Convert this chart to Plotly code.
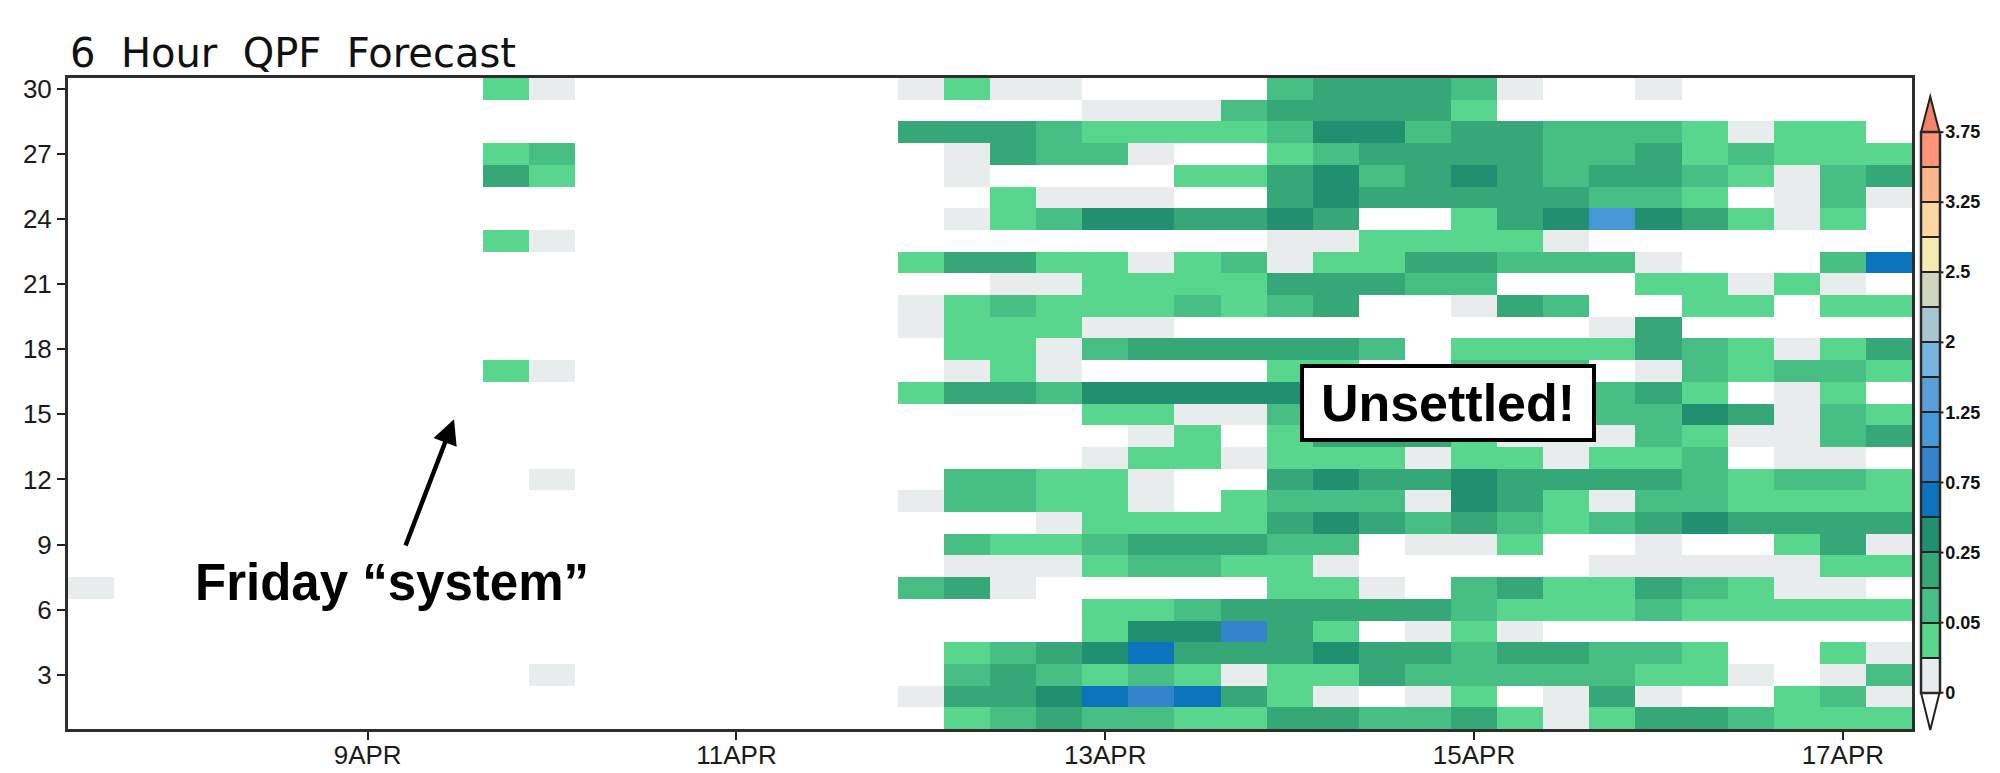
import numpy as np
import plotly.graph_objects as go

W, H = 2000, 773
L, R, T, B = 68.0, 1912.0, 77.5, 729.0

TITLE = "6\u00a0\u00a0Hour\u00a0\u00a0QPF\u00a0\u00a0Forecast"
X_TICK_POS = [6, 14, 22, 30, 38]
X_TICK_TEXT = ["9APR", "11APR", "13APR", "15APR", "17APR"]
Y_TICK_POS = [3, 6, 9, 12, 15, 18, 21, 24, 27, 30]
LEVEL_LABELS = ["0", "", "0.05", "", "0.25", "", "0.75", "", "1.25", "", "2", "", "2.5", "", "3.25", "", "3.75"]
LEVEL_COLORS = ["#e8ecec", "#58d68d", "#46be84", "#36a878", "#209070", "#0c74bc", "#3384cb", "#4898d8",
                "#5a9fd8", "#74b4de", "#a9c6d0", "#d0d6bd", "#f4ebb2", "#fdd7a0", "#fdb58a", "#ff9478"]
TOP_COLOR = "#f4826b"

# Colour class per 6-hour cell (0 = no rain). First string = forecast 30, last = forecast 1.
LEFT_FORECASTS = {
    30: {9: 2, 10: 1}, 27: {9: 2, 10: 3}, 26: {9: 4, 10: 2}, 23: {9: 2, 10: 1},
    17: {9: 2, 10: 1}, 12: {10: 1}, 7: {0: 1}, 3: {10: 1},
}
RIGHT_ROWS = [  # columns 18..39
    "1211000034443100100000",
    "0000111344442000000000",
    "4443222235534433321220",
    "0143310023444433423222",
    "0100002245345434432134",
    "0021110045444443320131",
    "0123554454002458542120",
    "0000000011222210000000",
    "2442212312244333100036",
    "0011222244433000221210",
    "1232223234001430022022",
    "1222110000000001400000",
    "0221344444302222432124",
    "0121000022003330132332",
    "2443555555443333420120",
    "0000221133333333354132",
    "0000012024442111321134",
    "0000122122212212230110",
    "0332210045445444432332",
    "1332210233315421332222",
    "0001222245434323454444",
    "0322344433011200100241",
    "0111233221000001111122",
    "3410000022103422432110",
    "0000223444443222322222",
    "0000255742012100000000",
    "0234564445443443320021",
    "0343232122433333221013",
    "1445676421012014100231",
    "0234332244334212443222",
]

n_rows, n_cols = 30, 40
codes = np.zeros((n_rows, n_cols))
for i, row in enumerate(RIGHT_ROWS):
    forecast = 30 - i
    for j, ch in enumerate(row[:22]):
        codes[forecast - 1, 18 + j] = int(ch)
    for col, val in LEFT_FORECASTS.get(forecast, {}).items():
        codes[forecast - 1, col] = val

z = np.where(codes > 0, codes - 0.5, np.nan)

n = len(LEVEL_COLORS)
scale = []
for i, c in enumerate(LEVEL_COLORS):
    scale += [[i / n, c], [(i + 1) / n, c]]

px = lambda x: (x - L) / (R - L)
py = lambda y: (B - y) / (B - T)

CB_L, CB_R, CB_0, CB_TOP = 1921.0, 1939.5, 692.7, 131.7

fig = go.Figure(go.Heatmap(
    z=z.tolist(), x=list(range(n_cols)), y=list(range(1, n_rows + 1)),
    zmin=0, zmax=n, colorscale=scale, hoverinfo="skip", hoverongaps=False,
    colorbar=dict(
        thickness=CB_R - CB_L, thicknessmode="pixels",
        len=CB_0 - CB_TOP, lenmode="pixels",
        x=px(CB_L), xanchor="left", xpad=0,
        y=py(CB_0), yanchor="bottom", ypad=0,
        outlinewidth=2.5, outlinecolor="#2a2a2a",
        tickmode="array", tickvals=list(range(n + 1)), ticktext=LEVEL_LABELS,
        ticks="inside", ticklen=CB_R - CB_L, tickwidth=2.2, tickcolor="#222222",
        tickfont=dict(family="Liberation Sans", size=18, color="#111111", weight="bold"),
    ),
))

shapes = [
    dict(type="path", xref="paper", yref="paper", fillcolor=TOP_COLOR,
         line=dict(color="#222222", width=2),
         path=f"M {px(CB_L)} {py(CB_TOP)} L {px((CB_L+CB_R)/2)} {py(96)} L {px(CB_R)} {py(CB_TOP)} Z"),
    dict(type="path", xref="paper", yref="paper", fillcolor="white",
         line=dict(color="#222222", width=2),
         path=f"M {px(CB_L)} {py(CB_0)} L {px((CB_L+CB_R)/2)} {py(730)} L {px(CB_R)} {py(CB_0)} Z"),
]
for k, label in enumerate(LEVEL_LABELS):
    if label:
        yk = CB_0 - k * (CB_0 - CB_TOP) / n
        shapes.append(dict(type="line", xref="paper", yref="paper",
                           x0=px(CB_R), x1=px(CB_R + 4), y0=py(yk), y1=py(yk),
                           line=dict(color="#222222", width=2)))

annotations = [
    dict(text=TITLE, xref="paper", yref="paper", x=px(68), y=py(78), xanchor="left", yanchor="bottom",
         showarrow=False, font=dict(family="DejaVu Sans", size=40, color="#111111")),
    dict(text="Friday \u201csystem\u201d", xref="paper", yref="paper", x=px(391.5), y=py(582),
         xanchor="center", yanchor="middle", showarrow=False,
         font=dict(family="Liberation Sans", size=51, color="black", weight="bold")),
    dict(text="", xref="paper", yref="paper", x=px(454), y=py(419), ax=405 - 454, ay=546.7 - 419,
         axref="pixel", ayref="pixel", showarrow=True, arrowhead=2, arrowsize=1.1, arrowwidth=4.5, arrowcolor="black"),
    dict(text="<b>Unsettled!</b>", xref="paper", yref="paper", x=px(1447.5), y=py(402.5),
         xanchor="center", yanchor="middle", showarrow=False, align="center", valign="middle",
         width=288, height=70, bgcolor="white", bordercolor="black", borderwidth=4, borderpad=0,
         font=dict(family="Liberation Sans", size=52, color="black")),
]

font_ticks = dict(family="Liberation Sans", size=26, color="#1a1a1a")
fig.update_layout(
    width=W, height=H, autosize=False,
    margin=dict(l=L, r=W - R, t=T, b=H - B, pad=0, autoexpand=False),
    paper_bgcolor="white", plot_bgcolor="white",
    shapes=shapes, annotations=annotations,
    xaxis=dict(range=[-0.5, 39.5], tickmode="array", tickvals=X_TICK_POS, ticktext=X_TICK_TEXT,
               ticks="outside", ticklen=8, tickwidth=2, tickcolor="#222222", showgrid=False, zeroline=False,
               showline=True, linewidth=3, linecolor="#2e2e2e", mirror=True, tickfont=font_ticks,
               ticklabelstandoff=-7),
    yaxis=dict(range=[0.5, 30.5], tickmode="array", tickvals=Y_TICK_POS,
               ticks="outside", ticklen=8, tickwidth=2, tickcolor="#222222", showgrid=False, zeroline=False,
               showline=True, linewidth=3, linecolor="#2e2e2e", mirror=True, tickfont=font_ticks),
)

fig.write_html("out.html", config={"displayModeBar": False}, post_script="document.body.style.margin='0';")
